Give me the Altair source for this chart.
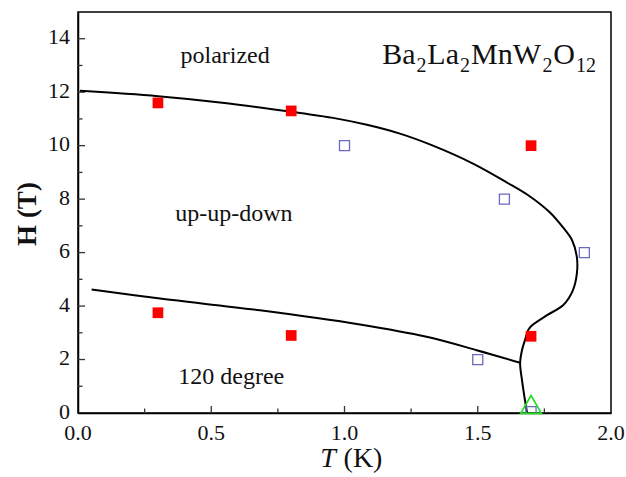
import altair as alt
import pandas as pd

# ---- data ----
red_T = [0.3, 0.8, 1.7, 0.3, 0.8, 1.7]
red_H = [11.6, 11.3, 10.0, 3.75, 2.9, 2.87]

blue_T = [1.0, 1.6, 1.9, 1.5, 1.7]
blue_H = [10.0, 8.0, 6.0, 2.0, 0.05]

green_T = [1.7]
green_H = [0.32]

upper_T = [0.007, 0.3, 0.55, 0.833, 0.957, 1.084, 1.208, 1.332, 1.482, 1.61, 1.696,
           1.771, 1.82, 1.854, 1.872, 1.872, 1.857, 1.82, 1.76, 1.704,
           1.689, 1.677, 1.666, 1.659, 1.666, 1.677, 1.685]
upper_H = [12.05, 11.85, 11.6, 11.22, 11.04, 10.78, 10.45, 10.0, 9.33, 8.62, 8.1,
           7.5, 6.94, 6.46, 5.82, 5.22, 4.59, 4.03, 3.66, 3.28,
           3.10, 2.72, 2.35, 1.87, 1.23, 0.49, 0.0]

lower_T = [0.051, 0.308, 0.683, 1.058, 1.308, 1.496, 1.659]
lower_H = [4.62, 4.28, 3.84, 3.31, 2.85, 2.35, 1.88]

x_major = [0.0, 0.5, 1.0, 1.5, 2.0]
x_minor = [0.25, 0.75, 1.25, 1.75]
y_major = [0, 2, 4, 6, 8, 10, 12, 14]
y_minor = [1, 3, 5, 7, 9, 11, 13]
x_labels = ["0.0", "0.5", "1.0", "1.5", "2.0"]
y_labels = ["0", "2", "4", "6", "8", "10", "12", "14"]

labels_text = ["polarized", "up-up-down", "120 degree"]
labels_T = [0.552, 0.585, 0.575]
labels_H = [13.36, 7.43, 1.34]

formula_main = ["Ba", "La", "MnW", "O"]
formula_sub = ["2", "2", "2", "12"]

FONT = "Liberation Serif, Times New Roman, Tinos, Nimbus Roman, DejaVu Serif, serif"
W, H = 533, 401

xs = alt.Scale(domain=[0, 2], nice=False, zero=False)
ys = alt.Scale(domain=[0, 15], nice=False, zero=False)

xaxis = alt.Axis(values=x_major, labels=False, ticks=False, grid=False, title=None,
                 domainColor="black", domainWidth=1.5)
yaxis = alt.Axis(values=y_major, labels=False, ticks=False, grid=False, title=None,
                 domainColor="black", domainWidth=1.5)

base = alt.Chart(pd.DataFrame({"T": [0.0], "H": [0.0]}))

axes_layer = base.mark_point(opacity=0).encode(
    x=alt.X("T:Q", scale=xs, axis=xaxis),
    y=alt.Y("H:Q", scale=ys, axis=yaxis),
)

upper_df = pd.DataFrame({"T": upper_T, "H": upper_H, "i": list(range(len(upper_T)))})
lower_df = pd.DataFrame({"T": lower_T, "H": lower_H, "i": list(range(len(lower_T)))})

upper = alt.Chart(upper_df).mark_line(color="black", strokeWidth=2, interpolate="catmull-rom").encode(
    x=alt.X("T:Q", scale=xs), y=alt.Y("H:Q", scale=ys), order="i:Q")
lower = alt.Chart(lower_df).mark_line(color="black", strokeWidth=2, interpolate="catmull-rom").encode(
    x=alt.X("T:Q", scale=xs), y=alt.Y("H:Q", scale=ys), order="i:Q")

red = alt.Chart(pd.DataFrame({"T": red_T, "H": red_H})).mark_point(
    shape="square", filled=True, color="#ff0000", size=115, opacity=1).encode(
    x=alt.X("T:Q", scale=xs), y=alt.Y("H:Q", scale=ys))

blue = alt.Chart(pd.DataFrame({"T": blue_T, "H": blue_H})).mark_point(
    shape="square", filled=False, color="#6a6ac0", size=100, strokeWidth=1.3, opacity=1, clip=True).encode(
    x=alt.X("T:Q", scale=xs), y=alt.Y("H:Q", scale=ys))

green = alt.Chart(pd.DataFrame({"T": green_T, "H": green_H})).mark_point(
    shape="triangle-up", filled=False, color="#22dd22", size=430, strokeWidth=1.7, opacity=1).encode(
    x=alt.X("T:Q", scale=xs), y=alt.Y("H:Q", scale=ys))

xtick_major = alt.Chart(pd.DataFrame({"T": x_major[1:-1]})).mark_rule(color="#333", strokeWidth=1.3).encode(
    x=alt.X("T:Q", scale=xs), y=alt.value(H), y2=alt.value(H - 7))
xtick_minor = alt.Chart(pd.DataFrame({"T": x_minor})).mark_rule(color="#333", strokeWidth=1.3).encode(
    x=alt.X("T:Q", scale=xs), y=alt.value(H), y2=alt.value(H - 4.5))
ytick_major = alt.Chart(pd.DataFrame({"H": y_major[1:]})).mark_rule(color="#333", strokeWidth=1.3).encode(
    y=alt.Y("H:Q", scale=ys), x=alt.value(0), x2=alt.value(7))
ytick_minor = alt.Chart(pd.DataFrame({"H": y_minor})).mark_rule(color="#333", strokeWidth=1.3).encode(
    y=alt.Y("H:Q", scale=ys), x=alt.value(0), x2=alt.value(4.5))

# tick labels drawn as text so that they use the serif face
xtick_labels = alt.Chart(pd.DataFrame({"T": x_major, "lab": x_labels})).mark_text(
    font=FONT, fontSize=22, color="#111", align="center", baseline="middle").encode(
    x=alt.X("T:Q", scale=xs), y=alt.value(H + 20), text="lab:N")
ytick_labels = alt.Chart(pd.DataFrame({"H": y_major, "lab": y_labels})).mark_text(
    font=FONT, fontSize=22, color="#111", align="right", baseline="middle", dy=-1.5).encode(
    y=alt.Y("H:Q", scale=ys), x=alt.value(-8), text="lab:N")

region_labels = alt.Chart(pd.DataFrame({"T": labels_T, "H": labels_H, "txt": labels_text})).mark_text(
    font=FONT, fontSize=24, color="#111", align="center", baseline="middle").encode(
    x=alt.X("T:Q", scale=xs), y=alt.Y("H:Q", scale=ys), text="txt:N")

# chemical formula: each main part ends where its lowered subscript begins
joint_x = [337.5, 381, 463, 497]
sub_gap = [1.0, 1.0, 1.5, 1.0]
formula_layers = []
for txt, px in zip(formula_main, joint_x):
    formula_layers.append(base.mark_text(font=FONT, fontSize=30, color="#111", align="right",
                                         baseline="alphabetic", text=txt).encode(
        x=alt.value(px), y=alt.value(52)))
for txt, px, g in zip(formula_sub, joint_x, sub_gap):
    formula_layers.append(base.mark_text(font=FONT, fontSize=20, color="#111", align="left",
                                         baseline="alphabetic", text=txt).encode(
        x=alt.value(px + g), y=alt.value(60)))

xtitle_T = base.mark_text(font=FONT, fontSize=28, fontStyle="italic", color="#111", align="center",
                          baseline="alphabetic", text="T").encode(x=alt.value(250), y=alt.value(455))
xtitle_K = base.mark_text(font=FONT, fontSize=28, color="#111", align="center",
                          baseline="alphabetic", text="(K)").encode(x=alt.value(285), y=alt.value(455))
ytitle = base.mark_text(font=FONT, fontSize=27, fontWeight="bold", color="#111", align="center",
                        baseline="middle", angle=270, text="H (T)").encode(x=alt.value(-50), y=alt.value(202))

chart = alt.layer(
    axes_layer, xtick_major, xtick_minor, ytick_major, ytick_minor,
    upper, lower, blue, red, green, xtick_labels, ytick_labels, region_labels,
    *formula_layers, xtitle_T, xtitle_K, ytitle
).properties(
    width=W, height=H,
    autosize=alt.AutoSizeParams(type="none"),
    padding={"left": 78, "top": 12, "right": 15, "bottom": 64},
    background="white",
).configure_view(stroke="black", strokeWidth=1.5)

chart.save("out.html", embed_options={"renderer": "svg", "actions": False})
